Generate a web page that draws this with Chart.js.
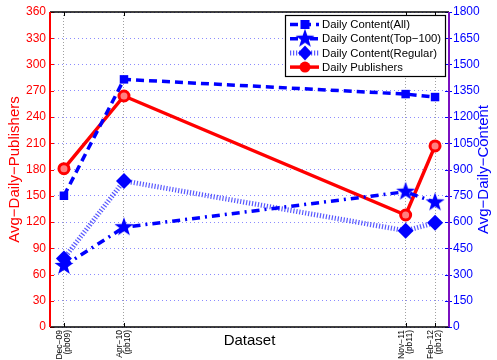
<!DOCTYPE html>
<html>
<head>
<meta charset="utf-8">
<script src="https://cdn.jsdelivr.net/npm/chart.js@4.4.0/dist/chart.umd.min.js"></script>
<style>
  html, body { margin: 0; padding: 0; background: #fff; }
</style>
</head>
<body>
<canvas id="grafica" width="497" height="360"></canvas>
<script>
// Meses transcurridos desde Dec-09 para cada dataset
const meses = [0, 4, 22.77, 24.73];
const etiquetasX = [["Dec−09", "(pb09)"], ["Apr−10", "(pb10)"], ["Nov−11", "(pb11)"], ["Feb−12", "(pb12)"]];

// Series (contenido en eje derecho, publicadores en eje izquierdo)
const contenidoTodo = [750, 1415, 1331, 1314];
const contenidoTop100 = [349, 570, 773, 712];
const contenidoRegular = [392, 835, 550, 596];
const publicadores = [181, 264, 128, 207];

const AZUL = '#0000ff';
const ROJO = '#ff0000';
const FUENTE = '"Liberation Sans", Arial, sans-serif';

// Estrella rellena para los marcadores Top-100
function crearEstrella(r) {
    const c = document.createElement('canvas');
    c.width = c.height = r * 2 + 2;
    const g = c.getContext('2d');
    g.fillStyle = AZUL;
    g.beginPath();
    for (let i = 0; i < 10; i++) {
        const rad = i % 2 === 0 ? r : r * 0.4;
        const ang = -Math.PI / 2 + i * Math.PI / 5;
        const px = r + 1 + rad * Math.cos(ang);
        const py = r + 1 + rad * Math.sin(ang);
        if (i === 0) g.moveTo(px, py); else g.lineTo(px, py);
    }
    g.closePath();
    g.fill();
    return c;
}
const estrella = crearEstrella(10);

function puntos(valores) {
    return meses.map((m, i) => ({ x: m, y: valores[i] }));
}

const datasets = [
    {
        label: 'Daily Content(All)',
        data: puntos(contenidoTodo),
        yAxisID: 'y1',
        borderColor: AZUL,
        backgroundColor: AZUL,
        borderWidth: 3.5,
        borderDash: [8, 5],
        pointStyle: 'rect',
        pointRadius: 6,
        pointBorderWidth: 0,
        marcador: 'cuadro'
    },
    {
        label: 'Daily Content(Top−100)',
        data: puntos(contenidoTop100),
        yAxisID: 'y1',
        borderColor: AZUL,
        backgroundColor: AZUL,
        borderWidth: 3.5,
        borderDash: [8, 5, 2, 5],
        pointStyle: estrella,
        marcador: 'estrella'
    },
    {
        label: 'Daily Content(Regular)',
        data: puntos(contenidoRegular),
        yAxisID: 'y1',
        borderColor: 'rgba(60,60,255,0.85)',
        backgroundColor: AZUL,
        borderWidth: 5,
        borderDash: [1.2, 1.8],
        pointStyle: 'rectRot',
        pointRadius: 8,
        pointBorderColor: AZUL,
        pointBorderWidth: 0,
        marcador: 'diamante'
    },
    {
        label: 'Daily Publishers',
        data: puntos(publicadores),
        yAxisID: 'y',
        borderColor: ROJO,
        backgroundColor: '#ff8080',
        borderWidth: 3.5,
        pointStyle: 'circle',
        pointRadius: 5,
        pointBorderWidth: 3,
        pointBorderColor: ROJO,
        marcador: 'circulo'
    }
];

function dibujarMarcador(ctx, tipo, x, y) {
    ctx.save();
    ctx.setLineDash([]);
    if (tipo === 'cuadro') {
        ctx.fillStyle = AZUL;
        ctx.fillRect(x - 4.5, y - 4.5, 9, 9);
    } else if (tipo === 'estrella') {
        ctx.drawImage(estrella, x - estrella.width / 2, y - estrella.height / 2);
    } else if (tipo === 'diamante') {
        ctx.fillStyle = AZUL;
        ctx.beginPath();
        ctx.moveTo(x, y - 7.5); ctx.lineTo(x + 7, y); ctx.lineTo(x, y + 7.5); ctx.lineTo(x - 7, y);
        ctx.closePath();
        ctx.fill();
    } else {
        ctx.fillStyle = ROJO;
        ctx.beginPath();
        ctx.arc(x, y, 5.5, 0, Math.PI * 2);
        ctx.fill();
    }
    ctx.restore();
}

// Bordes, marcas, etiquetas X, títulos de ejes y leyenda al estilo MATLAB
const estiloMatlab = {
    id: 'estiloMatlab',
    beforeDraw(chart) {
        const ctx = chart.ctx;
        ctx.save();
        ctx.fillStyle = '#ffffff';
        ctx.fillRect(0, 0, chart.width, chart.height);
        ctx.restore();
    },
    afterDraw(chart) {
        const ctx = chart.ctx;
        const a = chart.chartArea;
        const sx = chart.scales.x, sy = chart.scales.y, sy1 = chart.scales.y1;
        ctx.save();
        ctx.setLineDash([]);
        ctx.lineWidth = 1;

        // marcas de los ejes
        ctx.strokeStyle = '#000';
        meses.forEach(m => {
            const px = Math.round(sx.getPixelForValue(m)) + 0.5;
            ctx.beginPath();
            ctx.moveTo(px, a.bottom); ctx.lineTo(px, a.bottom - 4);
            ctx.moveTo(px, a.top); ctx.lineTo(px, a.top + 4);
            ctx.stroke();
        });
        sy.ticks.forEach(t => {
            const py = Math.round(sy.getPixelForValue(t.value)) + 0.5;
            ctx.strokeStyle = ROJO;
            ctx.beginPath(); ctx.moveTo(a.left, py); ctx.lineTo(a.left + 4, py); ctx.stroke();
        });
        sy1.ticks.forEach(t => {
            const py = Math.round(sy1.getPixelForValue(t.value)) + 0.5;
            ctx.strokeStyle = AZUL;
            ctx.beginPath(); ctx.moveTo(a.right - 4, py); ctx.lineTo(a.right + 3, py); ctx.stroke();
        });

        // bordes
        ctx.lineWidth = 1.5;
        ctx.strokeStyle = '#000';
        ctx.beginPath(); ctx.moveTo(a.left, a.top); ctx.lineTo(a.right, a.top); ctx.stroke();
        ctx.beginPath(); ctx.moveTo(a.left, a.bottom); ctx.lineTo(a.right, a.bottom); ctx.stroke();
        ctx.lineWidth = 2;
        ctx.strokeStyle = ROJO;
        ctx.beginPath(); ctx.moveTo(a.left, a.top); ctx.lineTo(a.left, a.bottom); ctx.stroke();
        ctx.strokeStyle = '#7a10c0';
        ctx.beginPath(); ctx.moveTo(a.right, a.top); ctx.lineTo(a.right, a.bottom); ctx.stroke();

        // etiquetas del eje X (giradas, dos líneas)
        ctx.fillStyle = '#000';
        ctx.font = '8.5px ' + FUENTE;
        ctx.textAlign = 'right';
        ctx.textBaseline = 'middle';
        meses.forEach((m, i) => {
            const px = sx.getPixelForValue(m);
            ctx.save();
            ctx.translate(px, a.bottom + 3);
            ctx.rotate(-Math.PI / 2);
            ctx.fillText(etiquetasX[i][0], 0, -4);
            ctx.fillText(etiquetasX[i][1], 0, 4);
            ctx.restore();
        });

        // títulos
        const cy = (a.top + a.bottom) / 2;
        ctx.font = '15px ' + FUENTE;
        ctx.textAlign = 'center';
        ctx.textBaseline = 'middle';
        ctx.fillStyle = ROJO;
        ctx.save(); ctx.translate(15, cy); ctx.rotate(-Math.PI / 2); ctx.fillText('Avg−Daily−Publishers', 0, 0); ctx.restore();
        ctx.fillStyle = AZUL;
        ctx.save(); ctx.translate(484, cy); ctx.rotate(-Math.PI / 2); ctx.fillText('Avg−Daily−Content', 0, 0); ctx.restore();
        ctx.fillStyle = '#000';
        ctx.fillText('Dataset', (a.left + a.right) / 2, 341);

        // leyenda: All, Top-100, Regular, Publishers
        const lx = 285, ly = 15, lw = 160, lh = 61;
        ctx.fillStyle = '#fff';
        ctx.fillRect(lx, ly, lw, lh);
        ctx.lineWidth = 1.2;
        ctx.strokeStyle = '#000';
        ctx.strokeRect(lx + 0.5, ly + 0.5, lw, lh);
        ctx.font = '11.3px ' + FUENTE;
        ctx.textAlign = 'left';
        datasets.forEach((d, k) => {
            const y = ly + 9.5 + k * 14.2;
            ctx.save();
            ctx.strokeStyle = d.borderColor;
            ctx.lineWidth = d.borderWidth;
            ctx.setLineDash(d.borderDash || []);
            ctx.beginPath(); ctx.moveTo(lx + 5, y); ctx.lineTo(lx + 34, y); ctx.stroke();
            ctx.restore();
            dibujarMarcador(ctx, d.marcador, lx + 20, y);
            ctx.fillStyle = '#000';
            ctx.fillText(d.label, lx + 37, y + 0.5);
        });
        ctx.restore();
    }
};

new Chart(document.getElementById('grafica'), {
    type: 'line',
    data: { datasets: datasets },
    options: {
        responsive: false,
        animation: false,
        layout: { padding: { top: 12 } },
        plugins: { legend: { display: false }, tooltip: { enabled: false } },
        scales: {
            x: {
                type: 'linear',
                min: -0.93,
                max: 25.66,
                afterBuildTicks: (scale) => { scale.ticks = meses.map(v => ({ value: v })); },
                afterFit: (scale) => { scale.height = 33; },
                ticks: { display: false },
                grid: { color: '#a0a0a0', drawTicks: false },
                border: { display: false, dash: [1, 2] }
            },
            y: {
                position: 'left',
                min: 0,
                max: 360,
                afterFit: (scale) => { scale.width = 50; },
                ticks: {
                    stepSize: 30,
                    padding: 4,
                    color: ROJO,
                    callback: (v) => String(v),
                    font: { size: 12, family: FUENTE }
                },
                grid: { color: 'rgba(110,110,255,0.8)', drawTicks: false },
                border: { display: false, dash: [1, 3] }
            },
            y1: {
                position: 'right',
                min: 0,
                max: 1800,
                afterFit: (scale) => { scale.width = 48; },
                ticks: {
                    stepSize: 150,
                    padding: 4,
                    color: AZUL,
                    callback: (v) => String(v),
                    font: { size: 12, family: FUENTE }
                },
                grid: { display: false, drawTicks: false },
                border: { display: false }
            }
        }
    },
    plugins: [estiloMatlab]
});
</script>
</body>
</html>
